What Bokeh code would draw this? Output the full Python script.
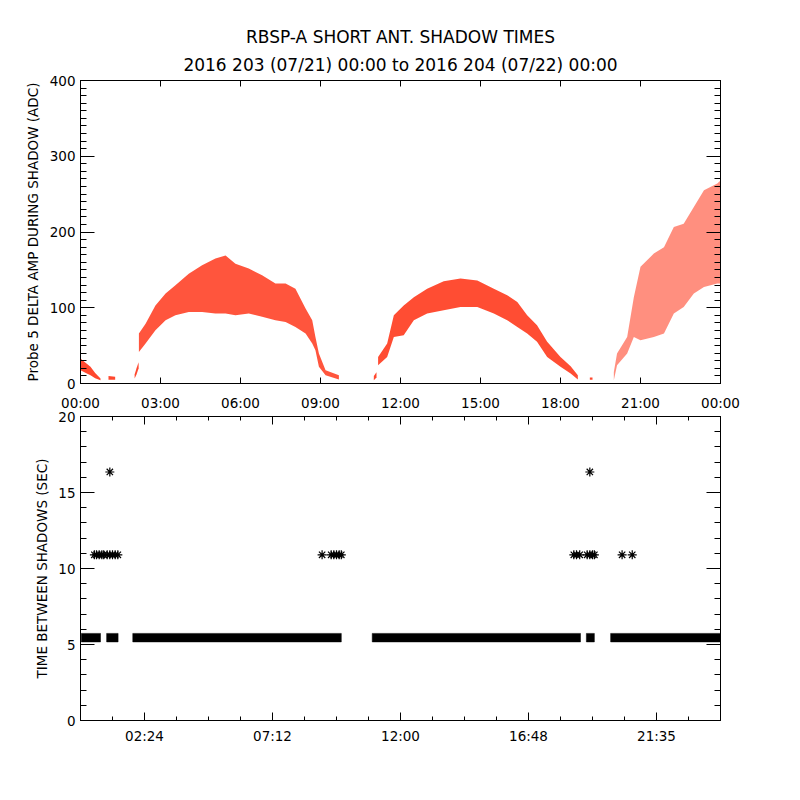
from bokeh.plotting import figure
from bokeh.models import FixedTicker, LinearAxis, Range1d, Title, CustomJSTickFormatter
from bokeh.layouts import column
from bokeh.embed import file_html
from bokeh.resources import INLINE

# ---------------- text ----------------
TITLE_1 = "RBSP-A SHORT ANT. SHADOW TIMES"
TITLE_2 = "2016 203 (07/21) 00:00 to 2016 204 (07/22) 00:00"
TOP_YLABEL = "Probe 5 DELTA AMP DURING SHADOW (ADC)"
BOT_YLABEL = "TIME BETWEEN SHADOWS (SEC)"

# ---------------- tick labels ----------------
top_xticks = [0, 3, 6, 9, 12, 15, 18, 21, 24]
top_xlabels = ["00:00", "03:00", "06:00", "09:00", "12:00", "15:00", "18:00", "21:00", "00:00"]
top_yticks = [0, 100, 200, 300, 400]
bot_xticks = [2.4, 7.2, 12.0, 16.8, 21.6]
bot_xlabels = ["02:24", "07:12", "12:00", "16:48", "21:35"]
bot_xminor = [0.0, 1.2, 2.4, 3.6, 4.8, 6.0, 7.2, 8.4, 9.6, 10.8, 12.0, 13.2,
              14.4, 15.6, 16.8, 18.0, 19.2, 20.4, 21.6, 22.8, 24.0]
bot_yticks = [0, 5, 10, 15, 20]

# ---------------- top panel: delta amp envelopes (hours, ADC) ----------------
seg1_t = [0.0, 0.2, 0.375, 0.55, 0.75]
seg1_hi = [33, 27, 22, 14, 6.6]
seg1_lo = [17.5, 14, 11, 7, 4.4]

seg2_t = [1.05, 1.3]
seg2_hi = [10, 9]
seg2_lo = [5, 5]

seg3_t = [2.03, 2.1, 2.18]
seg3_hi = [12, 20, 28]
seg3_lo = [6.6, 12, 20]

arc1_t = [2.19, 2.44, 2.81, 3.19, 3.56, 4.06, 4.56, 5.06, 5.44, 5.81, 6.31,
          6.81, 7.31, 7.69, 8.06, 8.44, 8.69, 8.81, 8.94, 9.19, 9.69]
arc1_hi = [66, 79, 103, 118.7, 129.7, 145, 156, 165, 169, 158, 151.7,
           143, 132, 132, 125, 99, 83.5, 61.5, 39.6, 17.5, 11]
arc1_lo = [41.7, 52.8, 70.3, 83.5, 90, 94.5, 94.5, 92.3, 92.3, 90, 92.3,
           88, 83.5, 81.3, 74.7, 66, 52.8, 44, 22, 11, 5.3]

seg4_t = [11.0, 11.1]
seg4_hi = [10, 15]
seg4_lo = [4.4, 8]

arc2_t = [11.16, 11.5, 11.75, 12.12, 12.5, 13.0, 13.62, 14.25, 14.88, 15.5,
          16.0, 16.38, 16.75, 17.12, 17.5, 18.0, 18.38, 18.65]
arc2_hi = [35, 52.8, 90, 103, 114, 125, 135, 138.5, 136, 125,
           116.5, 107.7, 90, 77, 55, 35, 22.8, 11]
arc2_lo = [24, 35, 61.5, 63.7, 83.5, 92.3, 96.7, 101, 101, 92.3,
           83.5, 74.7, 66, 55, 35, 22, 13.2, 5.3]

seg5_t = [19.1, 19.2]
seg5_hi = [8, 8]
seg5_lo = [5, 5]

arc3_t = [20.0, 20.12, 20.5, 20.75, 21.0, 21.5, 21.88, 22.25, 22.62, 23.0, 23.38, 23.88, 24.0]
arc3_hi = [15.3, 39.6, 61.5, 114, 154, 171.5, 180, 206.6, 211, 233, 255, 264, 268]
arc3_lo = [4.4, 24, 39.6, 61.5, 57, 61.5, 66, 92.3, 101, 118.7, 127.4, 132, 132]

# ---------------- bottom panel: time between shadows (sec) ----------------
band_start = [0.03, 0.98, 1.96, 10.94, 18.97, 19.88]
band_end = [0.75, 1.41, 9.78, 18.75, 19.27, 24.0]
band_level = [5.45, 5.45, 5.45, 5.45, 5.45, 5.45]

ast_t = [0.52, 0.6, 0.7, 0.8, 0.87, 1.0, 1.1, 1.2, 1.3, 1.4,
         9.06, 9.4, 9.5, 9.6, 9.7, 9.78,
         18.5, 18.6, 18.72, 19.0, 19.1, 19.2, 19.27, 20.31, 20.69,
         1.1, 19.1]
ast_v = [10.9, 10.9, 10.9, 10.9, 10.9, 10.9, 10.9, 10.9, 10.9, 10.9,
         10.9, 10.9, 10.9, 10.9, 10.9, 10.9,
         10.9, 10.9, 10.9, 10.9, 10.9, 10.9, 10.9, 10.9, 10.9,
         16.35, 16.35]

RED = "#ff2000"
FONT = "DejaVu Sans"
TICK_SIZE = "13.5px"


def blank():
    return CustomJSTickFormatter(code="return ''")


def label_fmt(ticks, labels):
    return CustomJSTickFormatter(args=dict(t=ticks, l=labels), code="""
        let b = 0;
        for (let i = 0; i < t.length; i++) {
            if (Math.abs(t[i] - tick) < Math.abs(t[b] - tick)) { b = i; }
        }
        return l[b];
    """)


def style_axis(ax, major_in, minor_in, labels=True):
    ax.axis_line_color = "black"
    ax.axis_line_width = 1
    ax.major_tick_line_color = "black"
    ax.minor_tick_line_color = "black"
    ax.major_tick_in = major_in
    ax.major_tick_out = 0
    ax.minor_tick_in = minor_in
    ax.minor_tick_out = 0
    ax.major_label_text_font = FONT
    ax.major_label_text_font_size = TICK_SIZE
    ax.major_label_text_color = "black"
    ax.axis_label_text_font = FONT
    ax.axis_label_text_font_size = "13.5px"
    ax.axis_label_text_font_style = "normal"
    ax.axis_label_text_color = "black"
    if not labels:
        ax.formatter = blank()
        ax.major_label_standoff = 0


def base_fig(ymax, min_top, min_bottom, frame_h):
    p = figure(frame_width=640, frame_height=frame_h,
               x_range=Range1d(0, 24), y_range=Range1d(0, ymax),
               output_backend="svg", toolbar_location=None, title=None,
               min_border_left=80, min_border_right=72,
               min_border_top=min_top, min_border_bottom=min_bottom,
               background_fill_color="white", border_fill_color="white")
    p.grid.visible = False
    p.outline_line_color = "black"
    return p


# ================= top figure =================
top = base_fig(400, 80, 8, 303)
xt_top = FixedTicker(ticks=top_xticks, minor_ticks=[])
yt_top = FixedTicker(ticks=top_yticks, minor_ticks=list(range(0, 401, 10)))

top.xaxis.ticker = xt_top
top.yaxis.ticker = yt_top
top.yaxis.axis_label = TOP_YLABEL
style_axis(top.xaxis[0], 6, 0, labels=False)
style_axis(top.yaxis[0], 14, 6)
top.yaxis.major_label_standoff = 5
top.yaxis.axis_label_standoff = 6

ax_r = LinearAxis(ticker=yt_top)
style_axis(ax_r, 14, 6, labels=False)
top.add_layout(ax_r, "right")
ax_t = LinearAxis(ticker=xt_top)
style_axis(ax_t, 6, 0, labels=False)
top.add_layout(ax_t, "above")

for tt, lo, hi, a in [(seg1_t, seg1_lo, seg1_hi, 0.82), (seg2_t, seg2_lo, seg2_hi, 0.82),
                      (seg3_t, seg3_lo, seg3_hi, 0.82), (arc1_t, arc1_lo, arc1_hi, 0.76),
                      (seg4_t, seg4_lo, seg4_hi, 0.82), (arc2_t, arc2_lo, arc2_hi, 0.8),
                      (seg5_t, seg5_lo, seg5_hi, 0.82), (arc3_t, arc3_lo, arc3_hi, 0.5)]:
    top.varea(x=tt, y1=lo, y2=hi, fill_color=RED, fill_alpha=a)

# two title lines: the first one added sits closest to the plot
top.add_layout(Title(text=TITLE_2, align="center", text_font=FONT, text_font_size="17px",
                     text_font_style="normal", text_color="black", standoff=12), "above")
top.add_layout(Title(text=TITLE_1, align="center", text_font=FONT, text_font_size="17px",
                     text_font_style="normal", text_color="black", standoff=0), "above")

# ================= bottom figure =================
bot = base_fig(20, 24, 40, 304)
xt_bot = FixedTicker(ticks=bot_xticks, minor_ticks=bot_xminor)
yt_bot = FixedTicker(ticks=bot_yticks, minor_ticks=list(range(0, 21)))

bot.xaxis.ticker = xt_bot
bot.xaxis.formatter = label_fmt(bot_xticks, bot_xlabels)
bot.yaxis.ticker = yt_bot
bot.yaxis.axis_label = BOT_YLABEL
style_axis(bot.xaxis[0], 8, 4)
bot.xaxis.major_label_standoff = 7
style_axis(bot.yaxis[0], 14, 6)
bot.yaxis.major_label_standoff = 5
bot.yaxis.axis_label_standoff = 5

bax_r = LinearAxis(ticker=yt_bot)
style_axis(bax_r, 14, 6, labels=False)
bot.add_layout(bax_r, "right")
bax_t = LinearAxis(ticker=xt_bot)
style_axis(bax_t, 8, 4, labels=False)
bot.add_layout(bax_t, "above")

# time labels of the upper panel's x axis (shown between the panels)
top_time_axis = LinearAxis(ticker=FixedTicker(ticks=top_xticks, minor_ticks=[]),
                           formatter=label_fmt(top_xticks, top_xlabels))
style_axis(top_time_axis, 0, 0)
top_time_axis.axis_line_color = None
top_time_axis.major_tick_line_color = None
top_time_axis.minor_tick_line_color = None
top_time_axis.major_label_standoff = 6
bot.add_layout(top_time_axis, "above")

bot.hbar(y=band_level, left=band_start, right=band_end, height=0.56,
         fill_color="black", line_color="black", line_width=0.5)
bot.scatter(x=ast_t, y=ast_v, marker="asterisk", size=9, line_color="black", line_width=1.2)

layout = column(top, bot, spacing=0)
open("out.html", "w").write(file_html(layout, INLINE))
